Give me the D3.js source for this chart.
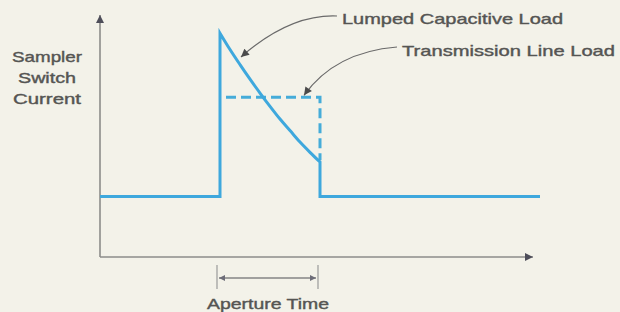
<!DOCTYPE html>
<html>
<head>
<meta charset="utf-8">
<script src="https://cdn.jsdelivr.net/npm/d3@7"></script>
<style>
  html, body { margin: 0; padding: 0; background: #f3f2e9; }
  svg { display: block; }
  .lbl { font-family: "Liberation Sans", Arial, sans-serif; fill: #555553; font-size: 15px;
         stroke: #555553; stroke-width: 0.4px; }
</style>
</head>
<body>
<svg width="620" height="312"></svg>
<script>

/*****************************************
*   Data (time units, current units)
*****************************************/

// lumped capacitive load: baseline, step up, decay, step down, baseline
var lumpedT = [0, 6, 6, 6.5, 7, 7.5, 8, 8.5, 9, 9.5, 10, 10.5, 11, 11, 22];
var lumpedI = [1, 1, 3.70, 3.43, 3.18, 2.94, 2.71, 2.49, 2.28, 2.09, 1.90, 1.73, 1.57, 1, 1];

// transmission line load: flat top during aperture (dashed part only)
var tlineT = [6.3, 11, 11];
var tlineI = [2.64, 2.64, 1.6];

var apertureT = [5.85, 10.9];
var axisEndT = 21.65;
var axisEndI = 4.0;

var yLabel = ['Sampler', 'Switch', 'Current'];

/*****************************************
*   Scales
*****************************************/

const BLUE = '#3ea8dd';
const AXIS_GREY = '#8c8c8a';
const DARK = '#4e4e5a';

var svg = d3.select('svg');

var xScale = d3.scaleLinear().domain([0, 22]).range([100, 540]);
var yScale = d3.scaleLinear().domain([0, 4]).range([257, 15]);

var defs = svg.append('defs');
function add_marker(id, len, wid, color) {
    defs.append('marker')
        .attr('id', id)
        .attr('viewBox', '0 0 10 10')
        .attr('refX', 10).attr('refY', 5)
        .attr('markerUnits', 'userSpaceOnUse')
        .attr('markerWidth', len).attr('markerHeight', wid)
        .attr('orient', 'auto-start-reverse')
        .append('path')
        .attr('d', 'M0,0 L10,5 L0,10 Z')
        .attr('fill', color);
}
add_marker('axhead', 10, 8, DARK);
add_marker('leadhead', 11, 8, '#4a4a4a');
add_marker('aphead', 9, 6, '#6d6d78');

/*****************************************
*   Axes
*****************************************/

svg.append('line')
    .attr('x1', xScale(0)).attr('y1', yScale(0))
    .attr('x2', xScale(0)).attr('y2', yScale(axisEndI))
    .attr('stroke', AXIS_GREY).attr('stroke-width', 1.6)
    .attr('marker-end', 'url(#axhead)');

svg.append('line')
    .attr('x1', xScale(0)).attr('y1', yScale(0))
    .attr('x2', xScale(axisEndT)).attr('y2', yScale(0))
    .attr('stroke', AXIS_GREY).attr('stroke-width', 1.6)
    .attr('marker-end', 'url(#axhead)');

/*****************************************
*   Curves
*****************************************/

var lumped = lumpedT.map((t, i) => [t, lumpedI[i]]);
var tline = tlineT.map((t, i) => [t, tlineI[i]]);

var line = d3.line()
    .x(d => xScale(d[0]))
    .y(d => yScale(d[1]));

svg.append('path')
    .attr('d', line(tline))
    .attr('fill', 'none')
    .attr('stroke', '#45acd9')
    .attr('stroke-width', 3)
    .attr('stroke-dasharray', '10,5');

// decay part smoothed, edges straight
var decay = lumped.slice(2, 13);
var smooth = d3.line().x(d => xScale(d[0])).y(d => yScale(d[1])).curve(d3.curveMonotoneX);
var pathD = line(lumped.slice(0, 3)) + smooth(decay).replace(/^M/, 'L') + line(lumped.slice(12)).replace(/^M/, 'L');
svg.append('path')
    .attr('d', pathD)
    .attr('fill', 'none')
    .attr('stroke', BLUE)
    .attr('stroke-width', 3)
    .attr('stroke-linejoin', 'miter');

/*****************************************
*   Labels and leaders
*****************************************/

yLabel.forEach(function(s, i) {
    svg.append('text')
        .attr('class', 'lbl')
        .attr('x', 47).attr('y', 62 + i * 21)
        .attr('text-anchor', 'middle')
        .attr('textLength', [70, 58, 68][i])
        .attr('lengthAdjust', 'spacingAndGlyphs')
        .text(s);
});

svg.append('text')
    .attr('class', 'lbl')
    .attr('x', 342).attr('y', 24)
    .attr('textLength', 221)
    .attr('lengthAdjust', 'spacingAndGlyphs')
    .text('Lumped Capacitive Load');

svg.append('text')
    .attr('class', 'lbl')
    .attr('x', 402).attr('y', 56)
    .attr('textLength', 213)
    .attr('lengthAdjust', 'spacingAndGlyphs')
    .text('Transmission Line Load');

// leader to the lumped curve at t = 7
var tip1 = [xScale(7) + 1, yScale(3.29) - 1];
svg.append('path')
    .attr('d', 'M337,16 Q290,14 ' + tip1[0] + ',' + tip1[1])
    .attr('fill', 'none').attr('stroke', '#6a6a6a').attr('stroke-width', 1.2)
    .attr('marker-end', 'url(#leadhead)');

// leader to the dashed top at t = 10.2
var tip2 = [xScale(10.2), yScale(2.64) - 2];
svg.append('path')
    .attr('d', 'M397,47 Q335,52 ' + tip2[0] + ',' + tip2[1])
    .attr('fill', 'none').attr('stroke', '#6a6a6a').attr('stroke-width', 1.2)
    .attr('marker-end', 'url(#leadhead)');

/*****************************************
*   Aperture time marker
*****************************************/

apertureT.forEach(function(t) {
    svg.append('line')
        .attr('x1', xScale(t)).attr('x2', xScale(t))
        .attr('y1', 265).attr('y2', 289)
        .attr('stroke', '#9a9a9a').attr('stroke-width', 1.2);
});

svg.append('line')
    .attr('x1', xScale(apertureT[0]) + 2).attr('x2', xScale(apertureT[1]) - 2)
    .attr('y1', 278).attr('y2', 278)
    .attr('stroke', '#858585').attr('stroke-width', 1.3)
    .attr('marker-start', 'url(#aphead)')
    .attr('marker-end', 'url(#aphead)');

svg.append('text')
    .attr('class', 'lbl')
    .attr('x', 207).attr('y', 309)
    .attr('textLength', 122)
    .attr('lengthAdjust', 'spacingAndGlyphs')
    .text('Aperture Time');

</script>
</body>
</html>
